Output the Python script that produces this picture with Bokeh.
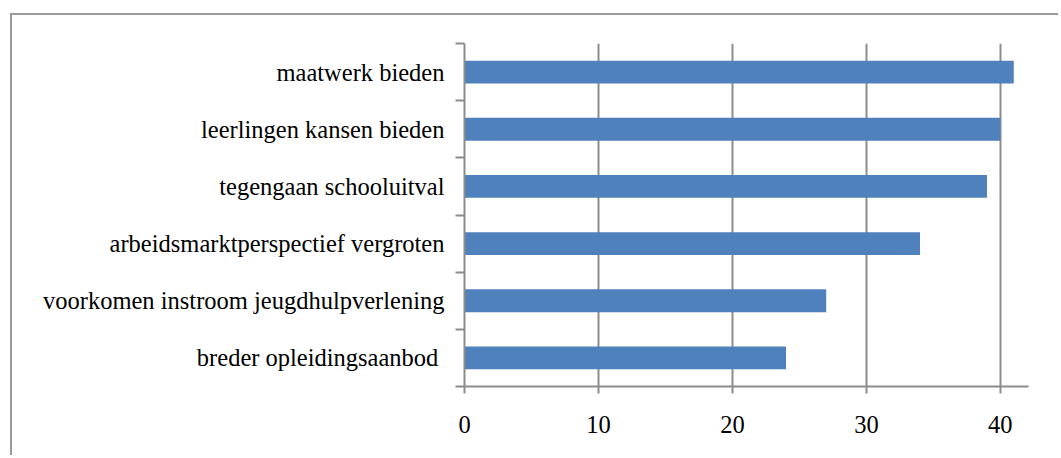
from bokeh.plotting import figure
from bokeh.models import Range1d, FixedTicker, ColumnDataSource
from bokeh.embed import file_html
from bokeh.resources import INLINE

categories = [
    "breder opleidingsaanbod ",
    "voorkomen instroom jeugdhulpverlening",
    "arbeidsmarktperspectief vergroten",
    "tegengaan schooluitval",
    "leerlingen kansen bieden",
    "maatwerk bieden",
]
values = [24, 27, 34, 39, 40, 41]
x_ticks = [0, 10, 20, 30, 40]
x_max = 42.1

n = len(categories)
ypos = [i + 0.5 for i in range(n)]
src = ColumnDataSource(data=dict(y=ypos, v=values, c=categories))

FONT = "Liberation Serif, serif"
GRAY = "#8c8c8c"

p = figure(
    width=1048, height=442,
    x_range=Range1d(0, x_max), y_range=Range1d(0, n),
    output_backend="svg", toolbar_location=None,
    min_border_left=452, min_border_right=32,
    min_border_top=28, min_border_bottom=71,
)
p.styles = {
    "border-left": "2px solid #9a9a9a",
    "border-top": "2px solid #9a9a9a",
    "margin-left": "10px",
    "margin-top": "13px",
}
p.outline_line_color = None
p.background_fill_color = "white"
p.border_fill_color = "white"

p.hbar(y="y", right="v", left=0, height=0.4, source=src,
       fill_color="#4F81BD", line_color=None)

# x axis
p.xaxis.ticker = FixedTicker(ticks=x_ticks)
p.xaxis.axis_line_color = GRAY
p.xaxis.axis_line_width = 2
p.xaxis.major_tick_line_color = GRAY
p.xaxis.major_tick_line_width = 2
p.xaxis.major_tick_in = 0
p.xaxis.major_tick_out = 7
p.xaxis.minor_tick_line_color = None
p.xaxis.major_label_text_font = FONT
p.xaxis.major_label_text_font_size = "24.5px"
p.xaxis.major_label_text_color = "black"
p.xaxis.major_label_standoff = 22

# y axis: labels at category centres, ticks between categories
p.yaxis.ticker = FixedTicker(ticks=ypos, minor_ticks=list(range(n + 1)))
p.yaxis.major_label_overrides = {y: c for y, c in zip(ypos, categories)}
p.yaxis.axis_line_color = GRAY
p.yaxis.axis_line_width = 2
p.yaxis.major_tick_line_color = None
p.yaxis.major_tick_in = 0
p.yaxis.major_tick_out = 0
p.yaxis.minor_tick_line_color = GRAY
p.yaxis.minor_tick_line_width = 2
p.yaxis.minor_tick_in = 0
p.yaxis.minor_tick_out = 9
p.yaxis.major_label_text_font = FONT
p.yaxis.major_label_text_font_size = "24.5px"
p.yaxis.major_label_text_color = "black"
p.yaxis.major_label_standoff = 11

p.xgrid.ticker = FixedTicker(ticks=x_ticks)
p.xgrid.grid_line_color = GRAY
p.xgrid.grid_line_width = 2
p.ygrid.grid_line_color = None

open("out.html", "w").write(file_html(p, INLINE))
